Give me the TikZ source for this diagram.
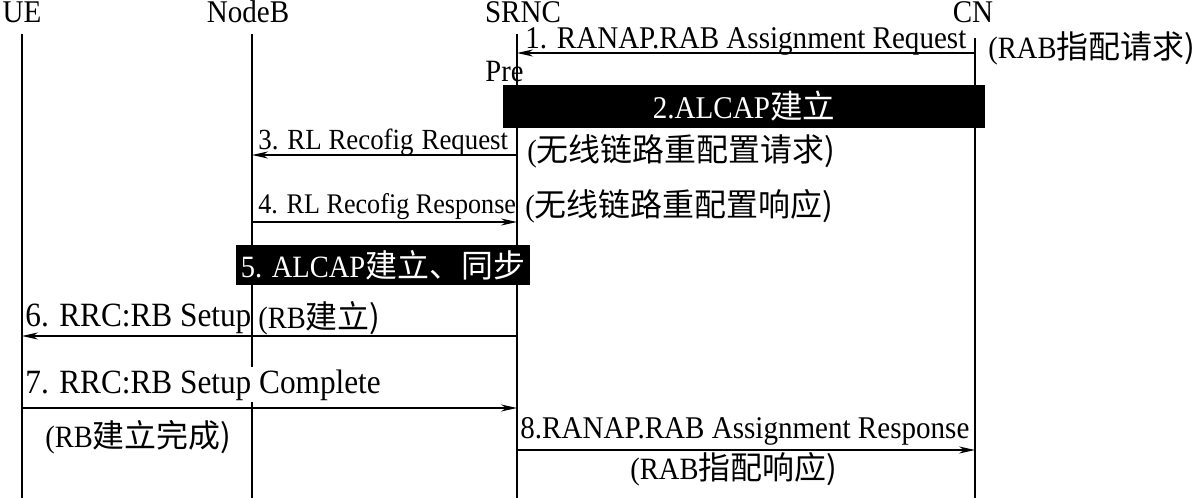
\documentclass[tikz,border=0pt]{standalone}
\usepackage{fontspec}
\setmainfont[FakeStretch=0.92]{Liberation Serif}
\newfontfamily\cjk[Scale=1.03]{Noto Sans CJK SC}
\usetikzlibrary{arrows.meta}
\begin{document}
\begin{tikzpicture}[x=0.5pt,y=-0.5pt,
  every node/.style={font=\fontsize{15.5pt}{17pt}\selectfont, inner sep=0pt},
  life/.style={line width=0.75pt},
  msg/.style={line width=1pt, -{Stealth[length=8pt,width=3.5pt]}},
  lbl/.style={anchor=base west},
  big/.style={font=\fontsize{15.8pt}{18pt}\selectfont},
  bigger/.style={font=\fontsize{17pt}{19pt}\selectfont},
  small/.style={font=\fontsize{14.6pt}{16pt}\selectfont},
  smaller/.style={font=\fontsize{14.2pt}{16pt}\selectfont},
  wlbl/.style={anchor=base west, fill=white, inner ysep=1pt},
  blk/.style={fill=black, text=white}]
\useasboundingbox (0,0) rectangle (1196,498);
% heads
\node[anchor=base, big] (ue) at (22,23) {UE};
\node[anchor=base, big] (nb) at (248,23) {NodeB};
\node[anchor=base, big] (srnc) at (523,23) {SRNC};
\node[anchor=base, big] (cn) at (973,23) {CN};
% lifelines
\coordinate (ueT) at (22,34);   \coordinate (ueB) at (22,498);
\coordinate (nbT) at (252,34);  \coordinate (nbB) at (252,498);
\coordinate (srT) at (517,34);  \coordinate (srB) at (517,498);
\coordinate (cnT) at (975,38);  \coordinate (cnB) at (975,498);
\draw[life] (ueT) -- (ueB);
\draw[life] (nbT) -- (nbB);
\draw[life] (srT) -- (srB);
\draw[life] (cnT) -- (cnB);
% message 1
\coordinate (m1a) at (975,53); \coordinate (m1b) at (517,53);
\draw[msg] (m1a) -- (m1b);
\node[lbl, big] (l1) at (525,48) {1. RANAP.RAB Assignment Request};
\node[lbl] (c1) at (988,58) {(RAB\cjk{指配请求})};
\node[lbl] (pre) at (485,82) {Pre};
% box 2
\node[blk, big, minimum width=241pt, minimum height=21.5pt] (b2) at (744,106.5) {2.ALCAP\cjk{建立}};
% message 3
\coordinate (m3a) at (517,155); \coordinate (m3b) at (252,155);
\draw[msg] (m3a) -- (m3b);
\node[lbl, small] (l3) at (258,149) {3. RL Recofig\hspace{4pt}Request};
\node[lbl] (c3) at (527,161) {(\cjk{无线链路重配置请求})};
% message 4
\coordinate (m4a) at (252,222); \coordinate (m4b) at (517,222);
\draw[msg] (m4a) -- (m4b);
\node[lbl, smaller] (l4) at (258,213) {4. RL Recofig Response};
\node[lbl] (c4) at (525,216) {(\cjk{无线链路重配置响应})};
% box 5
\node[blk, minimum width=147pt, minimum height=20pt] (b5) at (383,265) {5. ALCAP\cjk{建立、同步}};
% message 6
\coordinate (m6a) at (517,336); \coordinate (m6b) at (22,336);
\draw[msg] (m6a) -- (m6b);
\node[lbl, bigger] (l6) at (25,326) {6. RRC:RB Setup};
\node[lbl] (c6) at (258,328) {(RB\cjk{建立})};
% message 7
\coordinate (m7a) at (22,408); \coordinate (m7b) at (517,408);
\draw[msg] (m7a) -- (m7b);
\node[wlbl, bigger] (l7) at (25,393) {7. RRC:RB Setup Complete};
\node[lbl] (c7) at (45,447) {(RB\cjk{建立完成})};
% message 8
\coordinate (m8a) at (517,450); \coordinate (m8b) at (975,450);
\draw[msg] (m8a) -- (m8b);
\node[lbl, big] (l8) at (520,438) {8.RANAP.RAB Assignment Response};
\node[lbl] (c8) at (630,479) {(RAB\cjk{指配响应})};
\end{tikzpicture}
\end{document}
